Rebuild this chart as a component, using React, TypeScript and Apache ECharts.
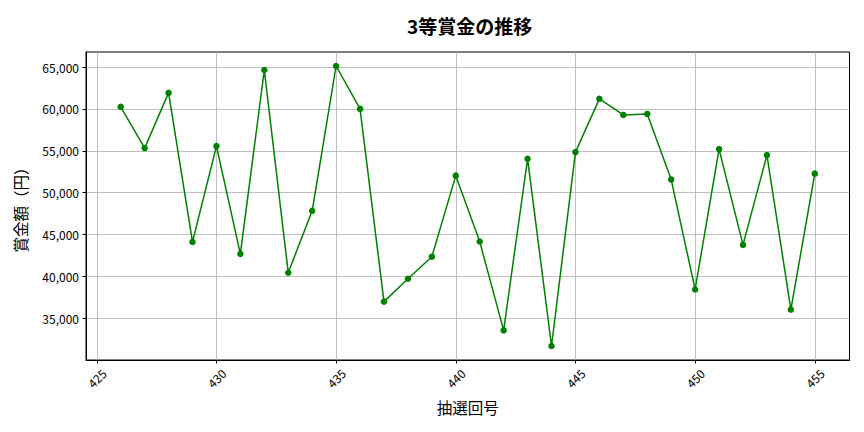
import { useEffect, useRef } from "react";
import * as echarts from "echarts";

// 抽選回号 and 3等 prize amounts (yen)
const DRAWS = [
  426, 427, 428, 429, 430, 431, 432, 433, 434, 435, 436, 437, 438, 439, 440,
  441, 442, 443, 444, 445, 446, 447, 448, 449, 450, 451, 452, 453, 454, 455,
];
const PRIZES = [
  60240, 55320, 61915, 44120, 55560, 42690, 64640, 40440, 47830, 65120, 60000,
  36990, 39720, 42350, 52030, 44160, 33560, 54040, 31690, 54840, 61200, 59280,
  59400, 51560, 38440, 55200, 43760, 54480, 36040, 52270,
];
const X_TICKS = [425, 430, 435, 440, 445, 450, 455];
const Y_TICKS = [35000, 40000, 45000, 50000, 55000, 60000, 65000];

const FONT = "'Noto Sans CJK JP', 'Noto Sans', sans-serif";

// matplotlib-style 5% margins around the data
function padded(vals: number[]) {
  const lo = Math.min(...vals);
  const hi = Math.max(...vals);
  const m = (hi - lo) * 0.05;
  return [lo - m, hi + m];
}

export default function App() {
  const chartRef = useRef<HTMLDivElement>(null);

  useEffect(() => {
    if (!chartRef.current) return;
    const chart = echarts.init(chartRef.current, undefined, { renderer: "svg" });

    const [xMin, xMax] = padded(DRAWS);
    const [yMin, yMax] = padded(PRIZES);

    chart.setOption({
      animation: false,
      backgroundColor: "#fff",
      textStyle: { fontFamily: FONT },
      title: {
        text: "3等賞金の推移",
        left: 402,
        top: 11,
        textStyle: { fontSize: 19, fontWeight: "bold", color: "#000", fontFamily: FONT },
      },
      grid: {
        left: 86,
        right: 14.5,
        top: 52,
        bottom: 72,
        show: true,
        borderColor: "#000",
        borderWidth: 1,
      },
      xAxis: {
        type: "value",
        min: xMin,
        max: xMax,
        name: "抽選回号",
        nameLocation: "middle",
        nameGap: 39,
        nameTextStyle: { fontSize: 15.5, color: "#000", fontFamily: FONT },
        axisLine: { show: true, lineStyle: { color: "#000", width: 1 } },
        axisTick: {
          show: true,
          length: 3.5,
          customValues: X_TICKS,
          lineStyle: { color: "#000", width: 1 },
        },
        axisLabel: {
          customValues: X_TICKS,
          rotate: 45,
          align: "center",
          verticalAlign: "middle",
          margin: 18,
          fontSize: 12,
          color: "#000",
          fontFamily: FONT,
        },
        splitLine: { show: true, lineStyle: { color: "#b0b0b0", width: 0.8 } },
      },
      yAxis: {
        type: "value",
        min: yMin,
        max: yMax,
        name: "賞金額（円）",
        nameLocation: "middle",
        nameGap: 58,
        nameTextStyle: { fontSize: 15.5, color: "#000", fontFamily: FONT },
        axisLine: { show: true, lineStyle: { color: "#000", width: 1 } },
        axisTick: {
          show: true,
          length: 3.5,
          customValues: Y_TICKS,
          lineStyle: { color: "#000", width: 1 },
        },
        axisLabel: {
          customValues: Y_TICKS,
          margin: 7,
          fontSize: 12,
          color: "#000",
          fontFamily: FONT,
          formatter: (v: number) => v.toLocaleString("en-US"),
        },
        splitLine: { show: true, lineStyle: { color: "#b0b0b0", width: 0.8 } },
      },
      series: [
        {
          type: "line",
          data: DRAWS.map((d, i) => [d, PRIZES[i]]),
          symbol: "circle",
          symbolSize: 6.5,
          lineStyle: { color: "#008000", width: 1.5 },
          itemStyle: { color: "#008000" },
        },
      ],
    });

    return () => {
      chart.dispose();
    };
  }, []);

  return (
    <div
      ref={chartRef}
      style={{ position: "fixed", left: 0, top: 0, width: 864, height: 432, background: "#fff" }}
    />
  );
}
